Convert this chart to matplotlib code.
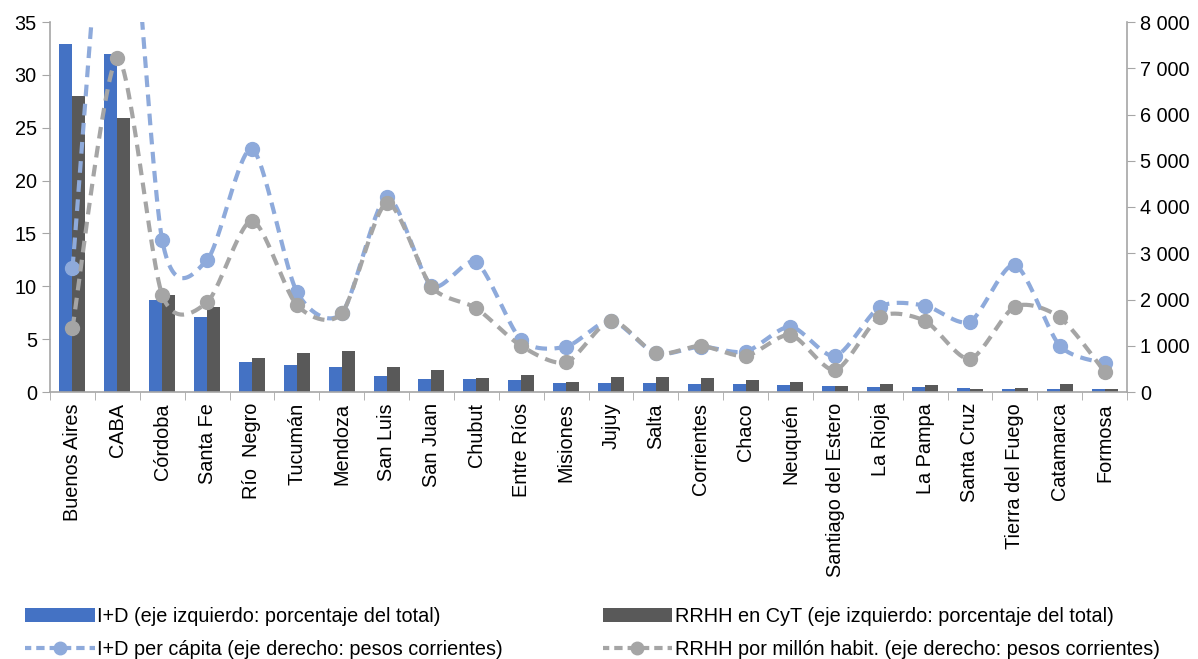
import numpy as np
import matplotlib
matplotlib.use('Agg')
import matplotlib.pyplot as plt
from matplotlib.ticker import FuncFormatter, FixedLocator

plt.rcParams['font.family'] = ['Liberation Sans', 'DejaVu Sans']

# Datos
provincias = ['Buenos Aires', 'CABA', 'Córdoba', 'Santa Fe', 'Río  Negro', 'Tucumán',
              'Mendoza', 'San Luis', 'San Juan', 'Chubut', 'Entre Ríos', 'Misiones',
              'Jujuy', 'Salta', 'Corrientes', 'Chaco', 'Neuquén', 'Santiago del Estero',
              'La Rioja', 'La Pampa', 'Santa Cruz', 'Tierra del Fuego', 'Catamarca', 'Formosa']
id_pct = [32.9, 32.0, 8.7, 7.1, 2.8, 2.6, 2.4, 1.5, 1.2, 1.2, 1.1, 0.88,
          0.85, 0.82, 0.76, 0.73, 0.66, 0.54, 0.5, 0.47, 0.38, 0.32, 0.28, 0.28]
rrhh_pct = [28.0, 25.9, 9.2, 8.0, 3.2, 3.7, 3.9, 2.4, 2.1, 1.3, 1.58, 0.95,
            1.39, 1.39, 1.3, 1.1, 0.98, 0.54, 0.76, 0.66, 0.32, 0.38, 0.76, 0.32]
id_per_capita = [2675, 13000, 3286, 2854, 5254, 2169, 1701, 4209, 2300, 2804, 1124, 980,
                 1542, 836, 980, 872, 1412, 778, 1845, 1867, 1521, 2746, 1002, 620]
rrhh_millon = [1377, 7215, 2100, 1940, 3700, 1880, 1701, 4080, 2277, 1809, 995, 641,
               1542, 836, 995, 778, 1232, 476, 1629, 1535, 714, 1845, 1614, 440]

c_azul = '#4472C4'
c_gris_osc = '#595959'
c_azul_cl = '#8EAADB'
c_gris_cl = '#A5A5A5'
c_eje = '#A6A6A6'
fs = 14.3


def suavizar(x, y, n=30, tension=0.4):
    # curva tipo "línea suavizada" de Excel (Hermite cúbica)
    x = np.asarray(x, float)
    y = np.asarray(y, float)
    px = np.concatenate([[x[0]], x, [x[-1]]])
    py = np.concatenate([[y[0]], y, [y[-1]]])
    xs, ys = [], []
    t = np.linspace(0, 1, n)
    h00 = 2 * t**3 - 3 * t**2 + 1
    h10 = t**3 - 2 * t**2 + t
    h01 = -2 * t**3 + 3 * t**2
    h11 = t**3 - t**2
    for i in range(1, len(px) - 2):
        for k, p in enumerate((px, py)):
            a, b, c, d = p[i - 1], p[i], p[i + 1], p[i + 2]
            m1 = (c - a) * tension
            m2 = (d - b) * tension
            v = h00 * b + h10 * m1 + h01 * c + h11 * m2
            (xs if k == 0 else ys).append(v)
    return np.concatenate(xs), np.concatenate(ys)


fig = plt.figure(figsize=(11.98, 6.59), dpi=100)
ax = fig.add_axes([50 / 1198, 1 - 392 / 659, (1127 - 50) / 1198, (392 - 22) / 659])
ax2 = ax.twinx()

x = np.arange(len(provincias))
w = 0.29
b1 = ax.bar(x - w / 2, id_pct, w, color=c_azul, label='I+D (eje izquierdo: porcentaje del total)')
b2 = ax.bar(x + w / 2, rrhh_pct, w, color=c_gris_osc, label='RRHH en CyT (eje izquierdo: porcentaje del total)')

sx, sy = suavizar(x, id_per_capita)
ax2.plot(sx, sy, color=c_azul_cl, lw=3, ls=(0, (2.8, 1.8)))
ax2.plot(x, id_per_capita, 'o', color=c_azul_cl, ms=10, ls='none')
sx, sy = suavizar(x, rrhh_millon)
ax2.plot(sx, sy, color=c_gris_cl, lw=3, ls=(0, (2.8, 1.8)))
ax2.plot(x, rrhh_millon, 'o', color=c_gris_cl, ms=10, ls='none')

l1, = ax2.plot([], [], color=c_azul_cl, lw=3, ls=(0.5, (2, 1.2)), marker='o', ms=9,
               label='I+D per cápita (eje derecho: pesos corrientes)')
l2, = ax2.plot([], [], color=c_gris_cl, lw=3, ls=(0.5, (2, 1.2)), marker='o', ms=9,
               label='RRHH por millón habit. (eje derecho: pesos corrientes)')

ax.set_xlim(-0.5, len(provincias) - 0.5)
ax.set_ylim(0, 35)
ax2.set_ylim(0, 8000)
ax.set_yticks(range(0, 36, 5))
ax2.set_yticks(range(0, 8001, 1000))
ax2.yaxis.set_major_formatter(FuncFormatter(lambda v, p: f'{int(v):,}'.replace(',', ' ')))

ax.set_xticks(x)
ax.set_xticklabels(provincias, rotation=90, fontsize=fs)
ax.xaxis.set_minor_locator(FixedLocator(np.arange(-0.5, len(provincias), 1)))
ax.tick_params(axis='x', which='major', length=0, pad=8)
ax.tick_params(axis='x', which='minor', length=6, color=c_eje, direction='out')
ax.tick_params(axis='y', labelsize=fs, length=6, color=c_eje, direction='out')
ax2.tick_params(axis='y', labelsize=fs, length=6, color=c_eje, direction='out')

for a in (ax, ax2):
    a.spines['top'].set_visible(False)
    for s in ('left', 'right', 'bottom'):
        a.spines[s].set_color(c_eje)
        a.spines[s].set_linewidth(1.2)
ax.spines['right'].set_visible(False)
ax2.spines['left'].set_visible(False)
ax2.spines['bottom'].set_visible(False)

fig.legend(handles=[b1, l1, b2, l2], ncol=2, loc='upper left',
           bbox_to_anchor=(25 / 1198, 1 - 607 / 659), borderaxespad=0, borderpad=0,
           frameon=False, fontsize=fs, handlelength=3.5, columnspacing=5.0,
           labelspacing=0.7, handletextpad=0.15)

fig.savefig('out.png', dpi=100)
